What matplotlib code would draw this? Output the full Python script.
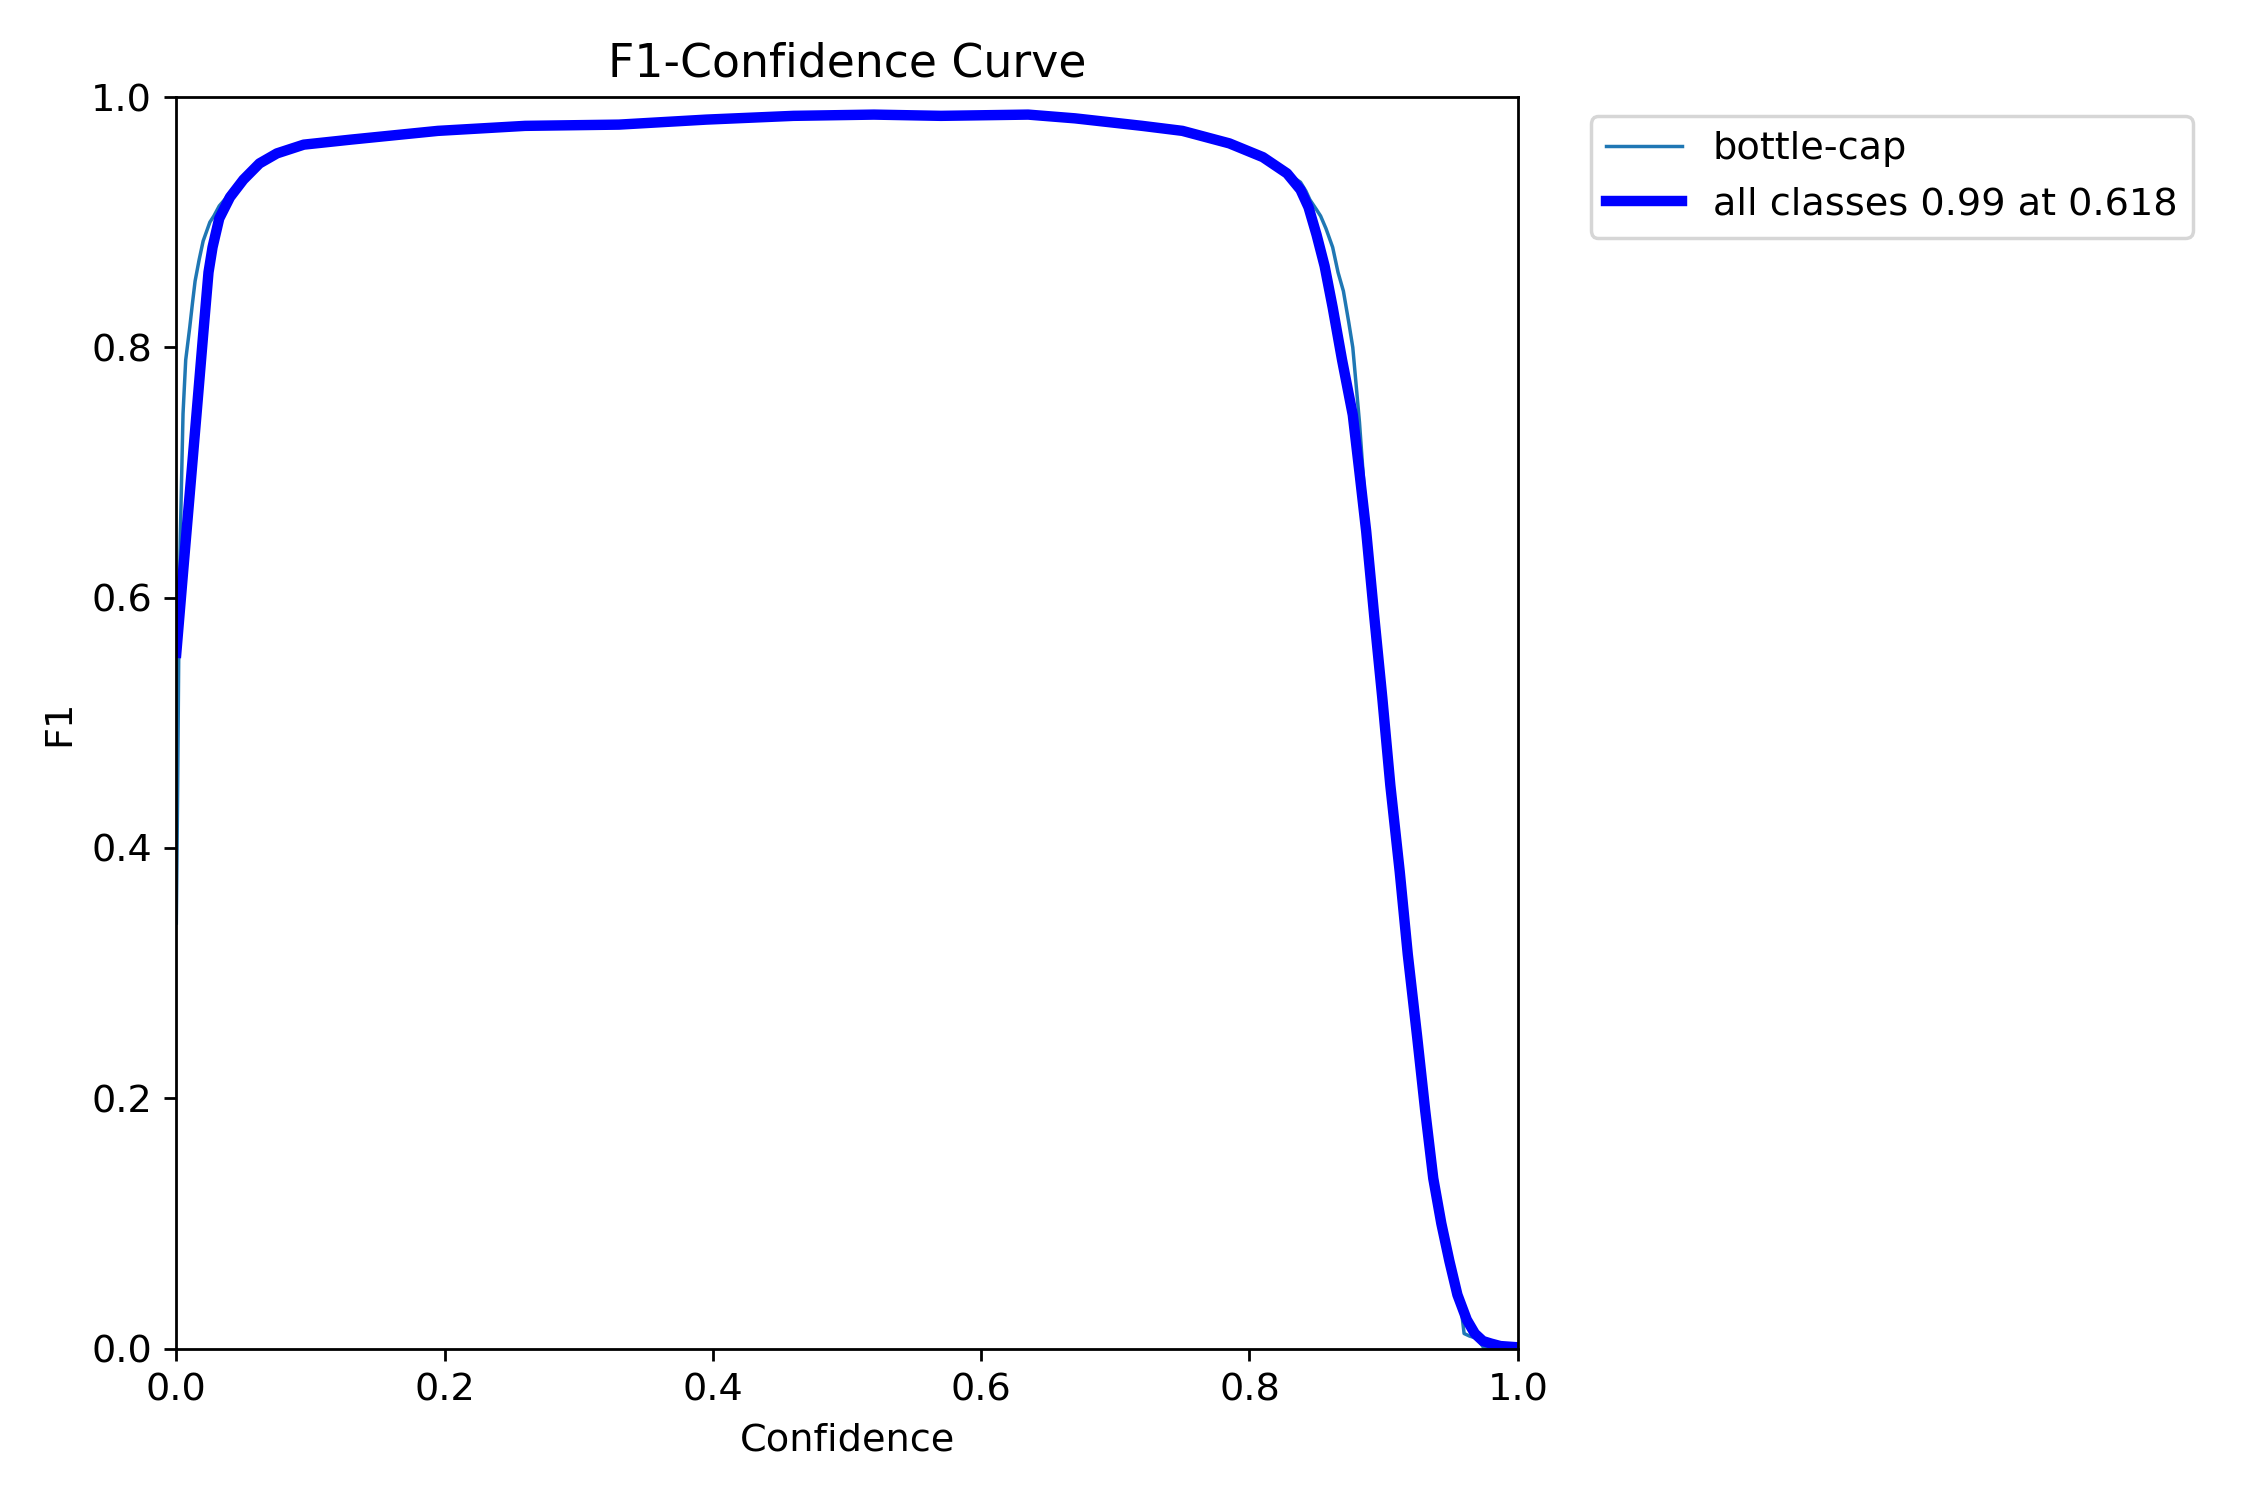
import numpy as np
import matplotlib
matplotlib.use("Agg")
import matplotlib.pyplot as plt

plt.rcParams["font.size"] = 11

# bottle-cap (raw per-class curve)
cap_conf = [0.0, 0.001, 0.002, 0.003, 0.005, 0.007, 0.010, 0.012, 0.014, 0.017, 0.020, 0.025,
            0.028, 0.032, 0.036, 0.040, 0.050, 0.062, 0.075, 0.095, 0.13, 0.195, 0.26, 0.33,
            0.395, 0.46, 0.52, 0.57, 0.635, 0.67, 0.72, 0.75, 0.785, 0.81, 0.828, 0.838,
            0.842, 0.845, 0.85, 0.853, 0.857, 0.862, 0.866, 0.87, 0.874, 0.877, 0.882, 0.887,
            0.893, 0.899, 0.905, 0.912, 0.918, 0.925, 0.931, 0.937, 0.94, 0.943, 0.945, 0.948,
            0.95, 0.953, 0.955, 0.958, 0.96, 0.964, 0.97, 0.975, 1.0]
cap_f1 = [0.34, 0.45, 0.58, 0.65, 0.747, 0.79, 0.816, 0.835, 0.853, 0.87, 0.885, 0.9,
          0.905, 0.913, 0.918, 0.924, 0.936, 0.947, 0.955, 0.962, 0.966, 0.973, 0.977, 0.978,
          0.982, 0.985, 0.986, 0.985, 0.986, 0.983, 0.977, 0.973, 0.963, 0.952, 0.939, 0.932,
          0.925, 0.918, 0.91, 0.905, 0.895, 0.88, 0.86, 0.845, 0.82, 0.8, 0.74, 0.665,
          0.59, 0.52, 0.45, 0.381, 0.315, 0.249, 0.19, 0.14, 0.12, 0.095, 0.083, 0.07,
          0.06, 0.05, 0.043, 0.03, 0.012, 0.01, 0.008, 0.0, 0.0]

# all classes (smoothed)
all_conf = [0.0, 0.005, 0.01, 0.015, 0.02, 0.024, 0.027, 0.032, 0.04, 0.05, 0.062, 0.075,
            0.095, 0.13, 0.195, 0.26, 0.33, 0.395, 0.46, 0.52, 0.57, 0.635, 0.67, 0.72,
            0.75, 0.785, 0.81, 0.828, 0.838, 0.844, 0.85, 0.856, 0.862, 0.869, 0.877, 0.882,
            0.887, 0.893, 0.899, 0.905, 0.912, 0.918, 0.925, 0.931, 0.937, 0.943, 0.949,
            0.955, 0.962, 0.968, 0.974, 0.98, 0.987, 1.0]
all_f1 = [0.556, 0.62, 0.683, 0.746, 0.81, 0.86, 0.88, 0.903, 0.92, 0.934, 0.947, 0.955,
          0.962, 0.966, 0.973, 0.977, 0.978, 0.982, 0.985, 0.986, 0.985, 0.986, 0.983, 0.977,
          0.973, 0.963, 0.952, 0.939, 0.926, 0.912, 0.89, 0.865, 0.832, 0.79, 0.746, 0.70,
          0.653, 0.585, 0.52, 0.45, 0.381, 0.315, 0.249, 0.19, 0.136, 0.10, 0.07,
          0.043, 0.023, 0.012, 0.006, 0.004, 0.002, 0.001]

fig, ax = plt.subplots(1, 1, figsize=(9, 6), tight_layout=True)
ax.plot(cap_conf, cap_f1, linewidth=1, label="bottle-cap")
ax.plot(all_conf, all_f1, linewidth=3, color="blue", label="all classes 0.99 at 0.618")
ax.set_xlabel("Confidence")
ax.set_ylabel("F1")
ax.set_xlim(0, 1)
ax.set_ylim(0, 1)
ax.legend(bbox_to_anchor=(1.04, 1), loc="upper left")
ax.set_title("F1-Confidence Curve")
fig.savefig("out.png", dpi=250)
